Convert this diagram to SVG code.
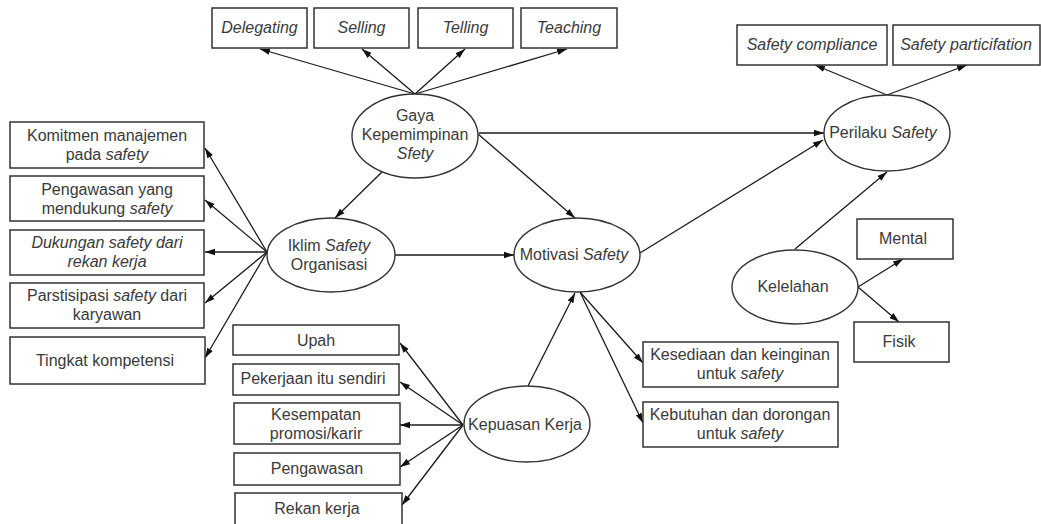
<svg xmlns="http://www.w3.org/2000/svg" width="1041" height="524" viewBox="0 0 1041 524">
<defs>
<marker id="ah" markerUnits="userSpaceOnUse" markerWidth="10" markerHeight="8" refX="10" refY="4" orient="auto">
<path d="M0,0.8 L10,4 L0,7.2 z" fill="#111"/>
</marker>
<style>
.box{fill:#fff;stroke:#333;stroke-width:1.5}
.ell{fill:#fff;stroke:#333;stroke-width:1.4}
.ln{stroke:#1a1a1a;stroke-width:1.3;fill:none;marker-end:url(#ah)}
text{font-family:"Liberation Sans",Arial,sans-serif;font-size:16px;fill:#3a3a3a;text-anchor:middle}
.i{font-style:italic}
</style>
</defs>
<rect width="1041" height="524" fill="#fff"/>

<g id="connectors">
<line class="ln" x1="415" y1="94" x2="260" y2="49"/>
<line class="ln" x1="415" y1="94" x2="362" y2="49"/>
<line class="ln" x1="415" y1="94" x2="465" y2="49"/>
<line class="ln" x1="415" y1="94" x2="567" y2="49"/>
<line class="ln" x1="479" y1="133" x2="824" y2="133"/>
<line class="ln" x1="383" y1="171" x2="335" y2="218"/>
<line class="ln" x1="478" y1="134" x2="575" y2="218"/>
<line class="ln" x1="267" y1="252" x2="205" y2="148"/>
<line class="ln" x1="267" y1="252" x2="205" y2="200"/>
<line class="ln" x1="267" y1="252" x2="205" y2="252"/>
<line class="ln" x1="267" y1="252" x2="205" y2="303"/>
<line class="ln" x1="267" y1="252" x2="205" y2="358"/>
<line class="ln" x1="395" y1="255" x2="514" y2="255"/>
<line class="ln" x1="640" y1="253" x2="823" y2="140"/>
<line class="ln" x1="795" y1="249" x2="887" y2="172"/>
<line class="ln" x1="887" y1="95" x2="815" y2="65"/>
<line class="ln" x1="887" y1="95" x2="967" y2="65"/>
<line class="ln" x1="858" y1="287" x2="903" y2="259"/>
<line class="ln" x1="858" y1="287" x2="899" y2="322"/>
<line class="ln" x1="580" y1="292" x2="643" y2="363"/>
<line class="ln" x1="580" y1="292" x2="643" y2="423"/>
<line class="ln" x1="528" y1="386" x2="575" y2="293"/>
<line class="ln" x1="463" y1="425" x2="400" y2="343"/>
<line class="ln" x1="463" y1="425" x2="400" y2="382"/>
<line class="ln" x1="463" y1="425" x2="400" y2="425"/>
<line class="ln" x1="463" y1="425" x2="400" y2="467"/>
<line class="ln" x1="463" y1="425" x2="402" y2="505"/>
</g>

<g id="delegating"><rect class="box" x="212" y="8" width="95" height="40"/><text class="i" x="259.5" y="33">Delegating</text></g>
<g id="selling"><rect class="box" x="314" y="8" width="95" height="40"/><text class="i" x="361.5" y="33">Selling</text></g>
<g id="telling"><rect class="box" x="418" y="8" width="95" height="40"/><text class="i" x="465.5" y="33">Telling</text></g>
<g id="teaching"><rect class="box" x="521" y="8" width="96" height="40"/><text class="i" x="569" y="33">Teaching</text></g>

<g id="gaya"><ellipse class="ell" cx="415" cy="136" rx="63" ry="42"/>
<text x="415" y="121">Gaya</text><text x="415" y="140">Kepemimpinan</text><text class="i" x="415" y="159">Sfety</text></g>

<g id="komitmen"><rect class="box" x="10" y="122" width="194" height="46"/><text x="107" y="141">Komitmen manajemen</text><text x="107" y="160">pada <tspan class="i">safety</tspan></text></g>
<g id="pengawasan-safety"><rect class="box" x="10" y="176" width="194" height="45"/><text x="107" y="195">Pengawasan yang</text><text x="107" y="214">mendukung <tspan class="i">safety</tspan></text></g>
<g id="dukungan"><rect class="box" x="10" y="230" width="194" height="45"/><text class="i" x="107" y="248">Dukungan safety dari</text><text class="i" x="107" y="267">rekan kerja</text></g>
<g id="partisipasi"><rect class="box" x="10" y="283" width="194" height="45"/><text x="107" y="301">Parstisipasi <tspan class="i">safety</tspan> dari</text><text x="107" y="320">karyawan</text></g>
<g id="kompetensi"><rect class="box" x="10" y="337" width="195" height="47"/><text x="105" y="366">Tingkat kompetensi</text></g>

<g id="iklim"><ellipse class="ell" cx="331" cy="255" rx="64" ry="37"/>
<text x="329" y="251">Iklim <tspan class="i">Safety</tspan></text><text x="329" y="270">Organisasi</text></g>

<g id="motivasi"><ellipse class="ell" cx="577" cy="255" rx="63" ry="37"/>
<text x="574" y="260">Motivasi <tspan class="i">Safety</tspan></text></g>

<g id="perilaku"><ellipse class="ell" cx="887" cy="133" rx="63" ry="38"/>
<text x="883" y="138">Perilaku <tspan class="i">Safety</tspan></text></g>

<g id="compliance"><rect class="box" x="737" y="25" width="150" height="40"/><text class="i" x="812" y="50">Safety compliance</text></g>
<g id="particifation"><rect class="box" x="893" y="25" width="147" height="40"/><text class="i" x="966" y="50">Safety particifation</text></g>

<g id="kelelahan"><ellipse class="ell" cx="795" cy="287" rx="63" ry="37"/>
<text x="793" y="292">Kelelahan</text></g>
<g id="mental"><rect class="box" x="857" y="219" width="96" height="40"/><text x="903" y="244">Mental</text></g>
<g id="fisik"><rect class="box" x="854" y="322" width="95" height="40"/><text x="899" y="347">Fisik</text></g>

<g id="kesediaan"><rect class="box" x="643" y="342" width="195" height="45"/><text x="740" y="360">Kesediaan dan keinginan</text><text x="740" y="379">untuk <tspan class="i">safety</tspan></text></g>
<g id="kebutuhan"><rect class="box" x="643" y="402" width="195" height="45"/><text x="740" y="420">Kebutuhan dan dorongan</text><text x="740" y="439">untuk <tspan class="i">safety</tspan></text></g>

<g id="kepuasan"><ellipse class="ell" cx="527" cy="424" rx="63" ry="38"/>
<text x="525" y="430">Kepuasan Kerja</text></g>

<g id="upah"><rect class="box" x="233" y="325" width="166" height="30"/><text x="316" y="346">Upah</text></g>
<g id="pekerjaan"><rect class="box" x="233" y="364" width="166" height="31"/><text x="313" y="384">Pekerjaan itu sendiri</text></g>
<g id="kesempatan"><rect class="box" x="234" y="403" width="166" height="41"/><text x="316" y="420">Kesempatan</text><text x="316" y="439">promosi/karir</text></g>
<g id="pengawasan"><rect class="box" x="234" y="453" width="166" height="32"/><text x="317" y="474">Pengawasan</text></g>
<g id="rekan"><rect class="box" x="235" y="493" width="167" height="40"/><text x="317" y="514">Rekan kerja</text></g>
</svg>
